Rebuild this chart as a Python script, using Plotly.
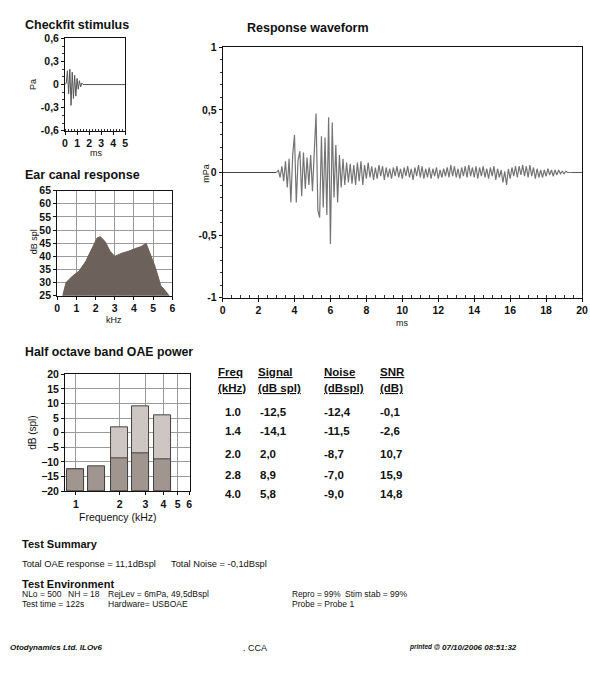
import plotly.graph_objects as go

W, H = 590, 675
FONT = "Liberation Sans"

# ---------------- data ----------------
stim_t = [0.0, 0.1, 0.2, 0.3, 0.4, 0.5, 0.6, 0.7, 0.8, 0.9, 1.0, 1.1, 1.2, 1.3, 1.4, 1.5, 5.0]
stim_v = [0.0, 0.02, 0.18, -0.12, 0.20, -0.27, 0.16, -0.18, 0.12, -0.15, 0.08, -0.06, 0.05, -0.03, 0.02, 0.0, 0.0]

ear_khz = [0.29, 0.46, 0.80, 1.14, 1.48, 1.82, 2.08, 2.25, 2.50, 2.76, 3.00, 3.36, 3.70, 4.04, 4.38,
           4.63, 4.80, 5.06, 5.23, 5.40, 5.57, 5.74, 5.83]
ear_db = [25.0, 30.0, 32.5, 34.4, 38.0, 43.0, 47.0, 47.5, 45.6, 41.9, 40.0, 41.2, 41.9, 42.9, 43.75,
          45.0, 42.0, 36.9, 33.0, 28.75, 27.5, 25.6, 25.0]

resp_pre_t = [0.0, 3.0]
resp_pre_v = [0.0, 0.0]
resp_t0 = 3.0
resp_dt = 0.1
resp_v = [
    0.00, 0.02, -0.04, 0.05, -0.07, 0.09, -0.12, 0.11, -0.24, 0.14,
    0.30, -0.24, 0.10, 0.17, -0.19, 0.16, -0.13, 0.12, -0.10, 0.14,
    -0.15, 0.18, 0.47, -0.30, -0.36, 0.29, -0.28, 0.28, -0.34, 0.44,
    -0.57, 0.40, -0.20, 0.22, -0.24, 0.14, -0.12, 0.11, -0.10, 0.08,
    -0.08, 0.07, -0.09, 0.06, -0.10, 0.08, -0.07, 0.09, -0.10, 0.06,
    -0.05, 0.08, -0.04, 0.05, -0.06, 0.04, -0.05, 0.06, -0.03, 0.05,
    -0.06, 0.04, -0.04, 0.03, -0.05, 0.04, -0.03, 0.05, -0.04, 0.03,
    -0.05, 0.04, -0.03, 0.05, -0.04, 0.03, -0.06, 0.04, -0.03, 0.06,
    -0.04, 0.05, -0.05, 0.03, -0.04, 0.04, -0.05, 0.03, -0.03, 0.04,
    -0.05, 0.02, -0.04, 0.03, -0.03, 0.04, -0.04, 0.06, -0.03, 0.05,
    -0.04, 0.03, -0.05, 0.04, -0.03, 0.05, -0.04, 0.06, -0.03, 0.04,
    -0.04, 0.05, -0.05, 0.04, -0.03, 0.05, -0.04, 0.03, -0.05, 0.04,
    -0.03, 0.05, -0.06, 0.03, -0.04, 0.02, -0.08, 0.01, -0.10, 0.03,
    -0.05, 0.04, -0.03, 0.05, -0.04, 0.05, -0.02, 0.06, -0.03, 0.05,
    -0.04, 0.06, -0.03, 0.04, -0.05, 0.03, -0.04, 0.02, -0.04, 0.02,
    -0.03, 0.03, -0.02, 0.02, -0.03, 0.02, -0.02, 0.02, -0.01, 0.01,
    -0.01, 0.01, 0.00, 0.00, 0.00,
]
resp_post_t = [19.4, 20.0]
resp_post_v = [0.0, 0.0]

band_freq = [1.0, 1.4, 2.0, 2.8, 4.0]
band_signal = [-12.5, -14.1, 2.0, 8.9, 5.8]
band_noise = [-12.4, -11.5, -8.7, -7.0, -9.0]
band_snr = [-0.1, -2.6, 10.7, 15.9, 14.8]

stim_yticks = [-0.6, -0.3, 0, 0.3, 0.6]
stim_yticktext = ["-0,6", "-0,3", "0", "0,3", "0,6"]
resp_yticks = [-1, -0.5, 0, 0.5, 1]
resp_yticktext = ["-1", "-0,5", "0", "0,5", "1"]
band_xticks = [1, 2, 3, 4, 5, 6]
band_yticks = [-20, -15, -10, -5, 0, 5, 10, 15, 20]


def fx(px):
    return px / W


def fy(py):
    return 1 - py / H


def comma(v, nd=1):
    return f"{v:.{nd}f}".replace(".", ",")


fig = go.Figure()

# Checkfit stimulus
fig.add_trace(go.Scatter(x=stim_t, y=stim_v, mode="lines", line=dict(color="#555", width=1),
                         xaxis="x", yaxis="y", showlegend=False))
# Ear canal response
fig.add_trace(go.Scatter(x=ear_khz, y=ear_db, mode="lines", fill="tozeroy",
                         fillcolor="#6d615b", line=dict(color="#6d615b", width=1),
                         xaxis="x2", yaxis="y2", showlegend=False))
# Response waveform
fig.add_trace(go.Scatter(x=resp_pre_t, y=resp_pre_v, mode="lines", line=dict(color="#444", width=1.2),
                         xaxis="x3", yaxis="y3", showlegend=False))
fig.add_trace(go.Scatter(x0=resp_t0, dx=resp_dt, y=resp_v, mode="lines",
                         line=dict(color="#747474", width=1.2),
                         xaxis="x3", yaxis="y3", showlegend=False))
fig.add_trace(go.Scatter(x=resp_post_t, y=resp_post_v, mode="lines", line=dict(color="#555", width=1),
                         xaxis="x3", yaxis="y3", showlegend=False))
# OAE band bars: signal behind, noise in front
bar_w = [f * 0.27 for f in band_freq]
fig.add_trace(go.Bar(x=band_freq, y=[s - (-20) for s in band_signal], base=-20, width=bar_w,
                     marker=dict(color="#cdc6c2", line=dict(color="#444", width=1)),
                     xaxis="x4", yaxis="y4", showlegend=False))
fig.add_trace(go.Bar(x=band_freq, y=[n - (-20) for n in band_noise], base=-20, width=bar_w,
                     marker=dict(color="#a0958f", line=dict(color="#444", width=1)),
                     xaxis="x4", yaxis="y4", showlegend=False))

tickfont = dict(family=FONT, size=10.5, color="#111", weight="bold")
axcommon = dict(showline=True, linecolor="#111", linewidth=1, mirror=True, zeroline=False,
                tickfont=tickfont, ticks="outside", ticklen=3, tickcolor="#111")

fig.update_layout(
    width=W, height=H, margin=dict(l=0, r=0, t=0, b=0),
    paper_bgcolor="white", plot_bgcolor="white", barmode="overlay", bargap=0,
    font=dict(family=FONT, size=10, color="#111"),
    xaxis=dict(domain=[fx(63), fx(124)], range=[0, 5], tickvals=[0, 1, 2, 3, 4, 5],
               showgrid=False, anchor="y",
               minor=dict(ticks="inside", ticklen=2, dtick=0.25, tickcolor="#333"), **axcommon),
    yaxis=dict(domain=[fy(127), fy(33)], range=[-0.6, 0.6], tickvals=stim_yticks,
               ticktext=stim_yticktext, showgrid=False, anchor="x",
               minor=dict(ticks="outside", ticklen=2, dtick=0.1, tickcolor="#333"), **axcommon),
    xaxis2=dict(domain=[fx(55), fx(172)], range=[0, 6], dtick=1, showgrid=True,
                gridcolor="#9a9a9a", gridwidth=1, anchor="y2", layer="below traces", **axcommon),
    yaxis2=dict(domain=[fy(295), fy(188)], range=[25, 65], dtick=5, showgrid=True,
                gridcolor="#9a9a9a", gridwidth=1, anchor="x2", **axcommon),
    xaxis3=dict(domain=[fx(223), fx(588)], range=[0, 20], dtick=2, showgrid=False, anchor="y3",
                ticklabeloverflow="allow",
                minor=dict(ticks="inside", ticklen=3, dtick=0.5, tickcolor="#333"), **axcommon),
    yaxis3=dict(domain=[fy(297), fy(42)], range=[-1, 1], tickvals=resp_yticks,
                ticktext=resp_yticktext, showgrid=False, anchor="x3",
                minor=dict(ticks="outside", ticklen=2, dtick=0.1, tickcolor="#333"), **axcommon),
    xaxis4=dict(domain=[fx(63), fx(190)], type="log", range=[-0.075, 0.785], tickvals=band_xticks,
                ticktext=[str(v) for v in band_xticks], showgrid=True, gridcolor="#9a9a9a",
                anchor="y4", **axcommon),
    yaxis4=dict(domain=[fy(494), fy(375)], range=[-20, 20], tickvals=band_yticks, showgrid=True,
                gridcolor="#9a9a9a", anchor="x4", **axcommon),
)

ann = []


def txt(x, y, s, size=10, bold=False, italic=False, xanchor="left", angle=0, color="#111"):
    if bold:
        s = f"<b>{s}</b>"
    if italic:
        s = f"<i>{s}</i>"
    ann.append(dict(x=fx(x), y=fy(y), xref="paper", yref="paper", text=s, showarrow=False,
                    xanchor=xanchor, yanchor="middle", textangle=angle, borderpad=0,
                    font=dict(family=FONT, size=size, color=color)))


# titles and axis labels
txt(21, 19, "Checkfit stimulus", 12.5, bold=True)
txt(30, 80, "Pa", 9, angle=-90, xanchor="center")
txt(94, 150, "ms", 9, xanchor="center")
txt(21, 172, "Ear canal response", 12.5, bold=True)
txt(31, 240, "dB spl", 9, angle=-90, xanchor="center")
txt(113, 320, "kHz", 9, xanchor="center")
txt(247, 22, "Response waveform", 12.5, bold=True)
txt(206, 170, "mPa", 9, angle=-90, xanchor="center")
txt(405, 323, "ms", 9, xanchor="center")
txt(21, 352, "Half octave band OAE power", 12.3, bold=True)
txt(30, 435, "dB (spl)", 10, angle=-90, xanchor="center")
txt(117, 520, "Frequency (kHz)", 10.5, xanchor="center")

# table
hdr_x = [217, 258, 325, 382]
hdr1 = ["Freq", "Signal", "Noise", "SNR"]
hdr2 = ["(kHz)", "(dB spl)", "(dBspl)", "(dB)"]
for x, a, b in zip(hdr_x, hdr1, hdr2):
    txt(x, 373, f"<u>{a}</u>", 11.5, bold=True)
    txt(x, 389, f"<u>{b}</u>", 11.5, bold=True)
row_y = [413, 433, 456, 477, 497]
for i, y in enumerate(row_y):
    txt(224, y, f"{band_freq[i]:.1f}", 11.5, bold=True)
    txt(260, y, comma(band_signal[i]), 11.5, bold=True)
    txt(325, y, comma(band_noise[i]), 11.5, bold=True)
    txt(382, y, comma(band_snr[i]), 11.5, bold=True)

# summary text
txt(18, 548, "Test Summary", 11, bold=True)
txt(18, 568, "Total OAE response = 11,1dBspl", 9.3)
txt(170, 568, "Total Noise = -0,1dBspl", 9.3)
txt(18, 588, "Test Environment", 11, bold=True)
txt(18, 599, "NLo = 500", 8.5)
txt(65, 599, "NH = 18", 8.5)
txt(106, 599, "RejLev = 6mPa, 49,5dBspl", 8.5)
txt(292, 599, "Repro = 99%", 8.3)
txt(346, 599, "Stim stab = 99%", 8.5)
txt(18, 609, "Test time = 122s", 8.5)
txt(106, 609, "Hardware= USBOAE", 8.5)
txt(292, 609, "Probe = Probe 1", 8.5)

# footer
txt(6, 653, "Otodynamics Ltd. ILOv6", 8, bold=True, italic=True)
txt(243, 654, ". CCA", 9)
txt(411, 653, "printed @", 6.5, bold=True, italic=True)
txt(445, 653, "07/10/2006 08:51:32", 8, bold=True, italic=True)

fig.update_layout(annotations=ann)
fig.write_html("out.html", config={"displayModeBar": False},
               post_script="document.body.style.margin='0';document.body.style.overflow='hidden';")
